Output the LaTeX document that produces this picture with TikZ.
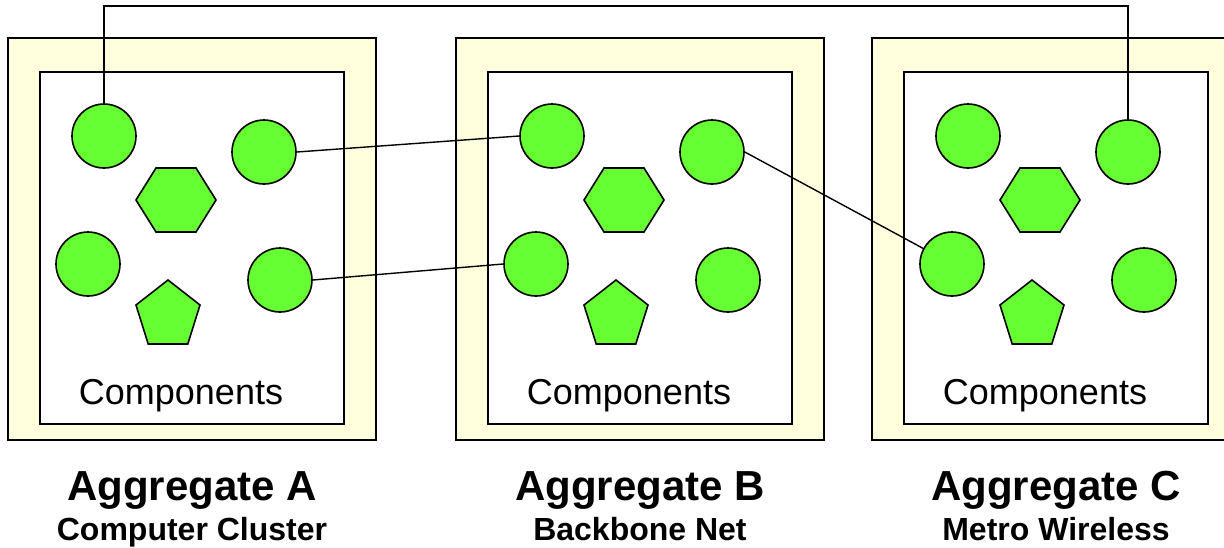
\documentclass[tikz,border=0pt]{standalone}
\usepackage{fontspec}
\setmainfont{Liberation Sans}
\definecolor{aggfill}{RGB}{255,255,221}
\definecolor{compgreen}{RGB}{102,255,51}
\tikzset{
  outerbox/.style={draw=black, line width=2pt, fill=aggfill},
  innerbox/.style={draw=black, line width=2pt, fill=white},
  compcircle/.style={circle, draw=black, line width=1.6pt, fill=compgreen, minimum size=64pt, inner sep=0pt},
  compshape/.style={draw=black, line width=1.6pt, fill=compgreen, line join=miter},
  link/.style={draw=black, line width=1.4pt},
  complabel/.style={anchor=base, inner sep=0pt, font=\fontsize{36}{40}\selectfont},
  aggtitle/.style={anchor=base, inner sep=0pt, font=\fontsize{42}{46}\selectfont\bfseries},
  aggsub/.style={anchor=base, inner sep=0pt, font=\fontsize{32}{36}\selectfont\bfseries}
}
\begin{document}
\begin{tikzpicture}[x=1pt, y=-1pt]
\useasboundingbox (0,0) rectangle (1224,547);
\clip (0,0) rectangle (1224,547);
\foreach \X/\n/\t/\s in {40/A/Aggregate A/Computer Cluster, 488/B/Aggregate B/Backbone Net, 904/C/Aggregate C/Metro Wireless}{
  \begin{scope}[shift={(\X,0)}]
    \draw[outerbox] (-32,38) rectangle (336,440);
    \draw[innerbox] (0,72) rectangle (304,424);
    \node[compcircle] (\n c1) at (64,136) {};
    \node[compcircle] (\n c2) at (224,152) {};
    \node[compcircle] (\n c3) at (48,264) {};
    \node[compcircle] (\n c4) at (240,280) {};
    \draw[compshape] (96,200) -- (116,168) -- (156,168) -- (176,200) -- (156,232) -- (116,232) -- cycle;
    \draw[compshape] (128,280) -- (160,305) -- (147.8,344) -- (108.2,344) -- (96,305) -- cycle;
    \node[complabel] (\n comp) at (141,404) {Components};
    \node[aggtitle] (\n title) at (152,500) {\t};
    \node[aggsub] (\n sub) at (152,540) {\s};
  \end{scope}
}
\coordinate (topy) at (0,6);
\draw[link] (Ac1.north) |- (Cc2.north |- topy) -- (Cc2.north);
\draw[link] (Ac2.east) -- (Bc1.west);
\draw[link] (Ac4.east) -- (Bc3.west);
\draw[link] (Bc2.east) -- (Cc3);
\end{tikzpicture}
\end{document}
